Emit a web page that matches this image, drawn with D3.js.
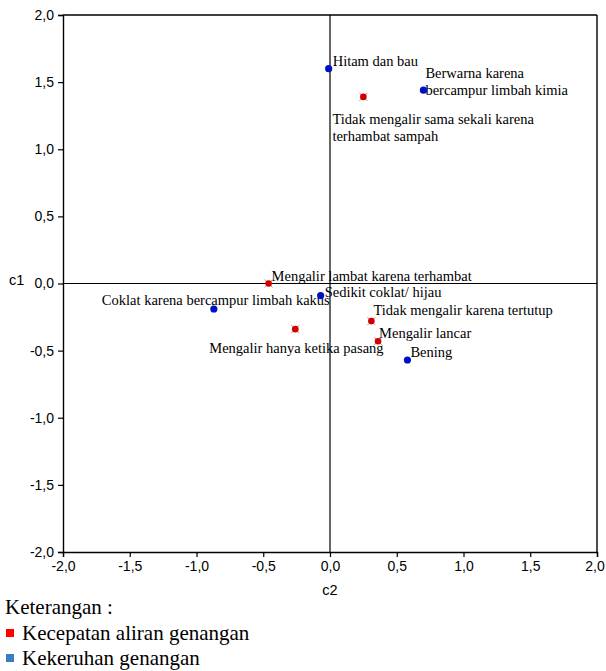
<!DOCTYPE html>
<html><head><meta charset="utf-8">
<script src="https://cdn.jsdelivr.net/npm/d3@7"></script>
<style>body{margin:0;background:#fff} .sf{font-family:"Liberation Serif","Times New Roman",serif} .ss{font-family:"Liberation Sans",Arial,sans-serif}</style>
</head><body>
<svg id="c" width="606" height="671"></svg>
<script>
const redNames = ["Tidak mengalir sama sekali karena|terhambat sampah","Mengalir lambat karena terhambat","Tidak mengalir karena tertutup","Mengalir lancar","Mengalir hanya ketika pasang"];
const redC2 = [0.25, -0.46, 0.31, 0.36, -0.26];
const redC1 = [1.39, 0.0, -0.28, -0.43, -0.34];
const blueNames = ["Hitam dan bau","Berwarna karena|bercampur limbah kimia","Sedikit coklat/ hijau","Coklat karena bercampur limbah kakus","Bening"];
const blueC2 = [-0.01, 0.70, -0.07, -0.87, 0.58];
const blueC1 = [1.60, 1.44, -0.09, -0.19, -0.57];
const ticks = [-2,-1.5,-1,-0.5,0,0.5,1,1.5,2];
const legendNames = ["Kecepatan aliran genangan","Kekeruhan genangan"];
// label offsets (dx, dy in px) relative to each point
const redOff = [[-31,27],[3,-3],[2,-6],[1,-3],[-86,24]];
const blueOff = [[4,-3],[2,-12],[4,1],[-112,-4],[3,-3]];

const svg = d3.select("#c");
const x = d3.scaleLinear().domain([-2,2]).range([63,597]);
const y = d3.scaleLinear().domain([-2,2]).range([552,15]);
const fmt = d => d3.format(".1f")(d).replace(".",",").replace("−","-");

const gx = svg.append("g").attr("transform","translate(0,552)")
  .call(d3.axisBottom(x).tickValues(ticks).tickSize(5).tickFormat(fmt));
const gy = svg.append("g").attr("transform","translate(63,0)")
  .call(d3.axisLeft(y).tickValues(ticks).tickSize(5).tickFormat(fmt));
[gx,gy].forEach(g=>{
  g.attr("font-family",null);
  g.select(".domain").attr("stroke","#000").attr("stroke-width",1.4);
  g.selectAll(".tick line").attr("stroke","#000").attr("stroke-width",1.2);
  g.selectAll("text").attr("class","ss").attr("font-size",14).attr("fill","#000");
});
gx.selectAll("text").attr("dy","0.8em");
gx.selectAll(".tick text").filter(d=>d===2).attr("dx",-2.5);
gy.selectAll("text").attr("dx","-1");
// top/right border
svg.append("line").attr("x1",x(-2)).attr("x2",x(2)).attr("y1",y(2)).attr("y2",y(2)).attr("stroke","#000").attr("stroke-width",1.4);
svg.append("line").attr("x1",x(2)).attr("x2",x(2)).attr("y1",y(2)).attr("y2",y(-2)).attr("stroke","#000").attr("stroke-width",1.4);
// zero lines
svg.append("line").attr("x1",x(-2)).attr("x2",x(2)).attr("y1",y(0)).attr("y2",y(0)).attr("stroke","#000").attr("stroke-width",1.2);
svg.append("line").attr("x1",x(0)).attr("x2",x(0)).attr("y1",y(2)).attr("y2",y(-2)).attr("stroke","#000").attr("stroke-width",1.2);

svg.append("text").attr("class","ss").attr("x",x(0)).attr("y",595).attr("text-anchor","middle")
  .attr("font-size",14.5).text("c2");
svg.append("text").attr("class","ss").attr("x",9).attr("y",y(0)+1).attr("font-size",14.5).text("c1");

function drawLabels(names, xs, ys, offs){
  names.forEach((n,i)=>{
    const t = svg.append("text").attr("class","sf").attr("font-size",14.5).attr("fill","#000");
    n.split("|").forEach((ln,j)=>{
      t.append("tspan").attr("x",x(xs[i])+offs[i][0]).attr("y",y(ys[i])+offs[i][1]+j*17).text(ln);
    });
  });
}
drawLabels(redNames, redC2, redC1, redOff);
drawLabels(blueNames, blueC2, blueC1, blueOff);

// red points with faint cross
redNames.forEach((n,i)=>{
  const cx = x(redC2[i]), cy = y(redC1[i]);
  svg.append("path").attr("d",`M${cx-4},${cy-4}L${cx+4},${cy+4}M${cx-4},${cy+4}L${cx+4},${cy-4}`)
    .attr("stroke","#f08080").attr("stroke-width",1);
  svg.append("circle").attr("cx",cx).attr("cy",cy).attr("r",3.3).attr("fill","#cc0000");
});
blueNames.forEach((n,i)=>{
  svg.append("circle").attr("cx",x(blueC2[i])).attr("cy",y(blueC1[i])).attr("r",3.6).attr("fill","#0010c8");
});

// legend
svg.append("text").attr("class","sf").attr("x",5).attr("y",614).attr("font-size",21).text("Keterangan :");
const legColors = ["#ff0000","#3b7dc4"];
legendNames.forEach((n,i)=>{
  svg.append("rect").attr("x",6).attr("y",629+i*25).attr("width",8).attr("height",8).attr("fill",legColors[i]);
  svg.append("text").attr("class","sf").attr("x",22).attr("y",640+i*25).attr("font-size",21).text(n);
});
</script>
</body></html>
